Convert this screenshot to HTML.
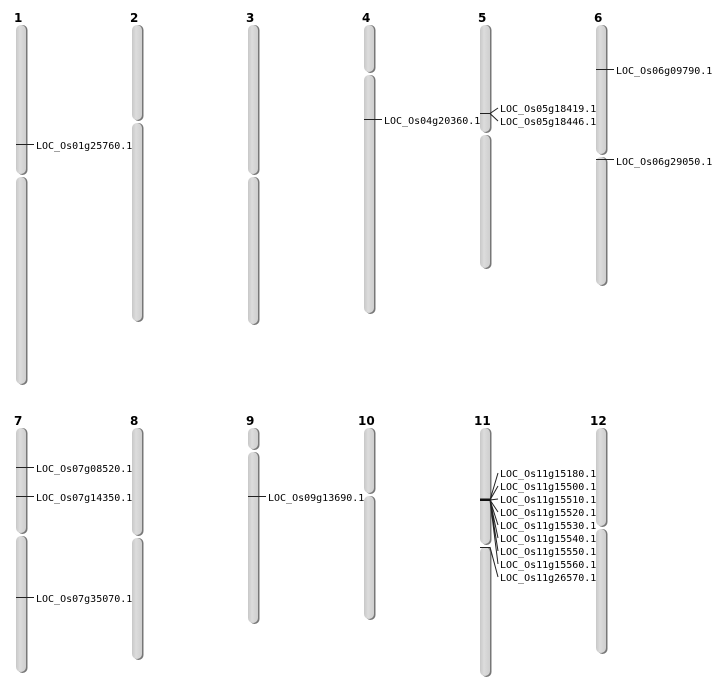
<!DOCTYPE html><html><head><style>body{margin:0;background:#fff}svg{display:block}</style></head><body>
<svg width="712" height="700" xmlns="http://www.w3.org/2000/svg" font-family="'DejaVu Sans Mono','Liberation Mono',monospace">
<defs><linearGradient id="g" x1="0" x2="1"><stop offset="0" stop-color="#c8c8c8"/><stop offset="0.4" stop-color="#dcdcdc"/><stop offset="1" stop-color="#cfcfcf"/></linearGradient></defs>
<g>
<g transform="translate(16,0)"><rect x="1.5" y="25" width="10" height="150" rx="5" fill="#777"/><rect x="0" y="25" width="10" height="149" rx="5" fill="url(#g)"/><rect x="1.5" y="177" width="10" height="208" rx="5" fill="#777"/><rect x="0" y="177" width="10" height="207" rx="5" fill="url(#g)"/></g>
<g transform="translate(132,0)"><rect x="1.5" y="25" width="10" height="96" rx="5" fill="#777"/><rect x="0" y="25" width="10" height="95" rx="5" fill="url(#g)"/><rect x="1.5" y="123" width="10" height="199" rx="5" fill="#777"/><rect x="0" y="123" width="10" height="198" rx="5" fill="url(#g)"/></g>
<g transform="translate(248,0)"><rect x="1.5" y="25" width="10" height="150" rx="5" fill="#777"/><rect x="0" y="25" width="10" height="149" rx="5" fill="url(#g)"/><rect x="1.5" y="177" width="10" height="148" rx="5" fill="#777"/><rect x="0" y="177" width="10" height="147" rx="5" fill="url(#g)"/></g>
<g transform="translate(364,0)"><rect x="1.5" y="25" width="10" height="48" rx="5" fill="#777"/><rect x="0" y="25" width="10" height="47" rx="5" fill="url(#g)"/><rect x="1.5" y="75" width="10" height="239" rx="5" fill="#777"/><rect x="0" y="75" width="10" height="238" rx="5" fill="url(#g)"/></g>
<g transform="translate(480,0)"><rect x="1.5" y="25" width="10" height="108" rx="5" fill="#777"/><rect x="0" y="25" width="10" height="107" rx="5" fill="url(#g)"/><rect x="1.5" y="135" width="10" height="134" rx="5" fill="#777"/><rect x="0" y="135" width="10" height="133" rx="5" fill="url(#g)"/></g>
<g transform="translate(596,0)"><rect x="1.5" y="25" width="10" height="130" rx="5" fill="#777"/><rect x="0" y="25" width="10" height="129" rx="5" fill="url(#g)"/><rect x="1.5" y="157" width="10" height="129" rx="5" fill="#777"/><rect x="0" y="157" width="10" height="128" rx="5" fill="url(#g)"/></g>
<g transform="translate(16,0)"><rect x="1.5" y="428" width="10" height="106" rx="5" fill="#777"/><rect x="0" y="428" width="10" height="105" rx="5" fill="url(#g)"/><rect x="1.5" y="536" width="10" height="137" rx="5" fill="#777"/><rect x="0" y="536" width="10" height="136" rx="5" fill="url(#g)"/></g>
<g transform="translate(132,0)"><rect x="1.5" y="428" width="10" height="108" rx="5" fill="#777"/><rect x="0" y="428" width="10" height="107" rx="5" fill="url(#g)"/><rect x="1.5" y="538" width="10" height="122" rx="5" fill="#777"/><rect x="0" y="538" width="10" height="121" rx="5" fill="url(#g)"/></g>
<g transform="translate(248,0)"><rect x="1.5" y="428" width="10" height="22" rx="5" fill="#777"/><rect x="0" y="428" width="10" height="21" rx="5" fill="url(#g)"/><rect x="1.5" y="452" width="10" height="172" rx="5" fill="#777"/><rect x="0" y="452" width="10" height="171" rx="5" fill="url(#g)"/></g>
<g transform="translate(364,0)"><rect x="1.5" y="428" width="10" height="66" rx="5" fill="#777"/><rect x="0" y="428" width="10" height="65" rx="5" fill="url(#g)"/><rect x="1.5" y="496" width="10" height="124" rx="5" fill="#777"/><rect x="0" y="496" width="10" height="123" rx="5" fill="url(#g)"/></g>
<g transform="translate(480,0)"><rect x="1.5" y="428" width="10" height="117" rx="5" fill="#777"/><rect x="0" y="428" width="10" height="116" rx="5" fill="url(#g)"/><rect x="1.5" y="547" width="10" height="130" rx="5" fill="#777"/><rect x="0" y="547" width="10" height="129" rx="5" fill="url(#g)"/></g>
<g transform="translate(596,0)"><rect x="1.5" y="428" width="10" height="99" rx="5" fill="#777"/><rect x="0" y="428" width="10" height="98" rx="5" fill="url(#g)"/><rect x="1.5" y="529" width="10" height="125" rx="5" fill="#777"/><rect x="0" y="529" width="10" height="124" rx="5" fill="url(#g)"/></g>
</g>
<g font-size="12" font-weight="bold" font-family="'DejaVu Sans','Liberation Sans',sans-serif">
<text x="14" y="22">1</text><text x="130" y="22">2</text><text x="246" y="22">3</text><text x="362" y="22">4</text><text x="478" y="22">5</text><text x="594" y="22">6</text>
<text x="14" y="425">7</text><text x="130" y="425">8</text><text x="246" y="425">9</text><text x="358" y="425">10</text><text x="474" y="425">11</text><text x="590" y="425">12</text>
</g>
<g stroke="#222" stroke-width="1" fill="none">
<path d="M16 144.5H34M364 119.5H382M480 113.5H490L498 108M490 113.5L498 121M596 69.5H614M596 159.5H614"/>
<path d="M16 467.5H34M16 496.5H34M16 597.5H34M248 496.5H266"/>
<path d="M480 500H490M480 547.5H490"/>
<path d="M490 500L498 473M490 500L498 486M490 500L498 499M490 500L498 512M490 500L498 525M490 500L498 538M490 500L498 551M490 500L498 564M490 547L498 577"/>
</g>
<rect x="480" y="498.5" width="10" height="2.5" fill="#111"/>
<g font-size="10" fill="#000">
<text x="36" y="149">LOC_Os01g25760.1</text>
<text x="384" y="124">LOC_Os04g20360.1</text>
<text x="500" y="112">LOC_Os05g18419.1</text><text x="500" y="125">LOC_Os05g18446.1</text>
<text x="616" y="74">LOC_Os06g09790.1</text><text x="616" y="165">LOC_Os06g29050.1</text>
<text x="36" y="472">LOC_Os07g08520.1</text><text x="36" y="501">LOC_Os07g14350.1</text><text x="36" y="602">LOC_Os07g35070.1</text>
<text x="268" y="501">LOC_Os09g13690.1</text>
<text x="500" y="477">LOC_Os11g15180.1</text><text x="500" y="490">LOC_Os11g15500.1</text><text x="500" y="503">LOC_Os11g15510.1</text><text x="500" y="516">LOC_Os11g15520.1</text><text x="500" y="529">LOC_Os11g15530.1</text><text x="500" y="542">LOC_Os11g15540.1</text><text x="500" y="555">LOC_Os11g15550.1</text><text x="500" y="568">LOC_Os11g15560.1</text><text x="500" y="581">LOC_Os11g26570.1</text>
</g>
</svg></body></html>
